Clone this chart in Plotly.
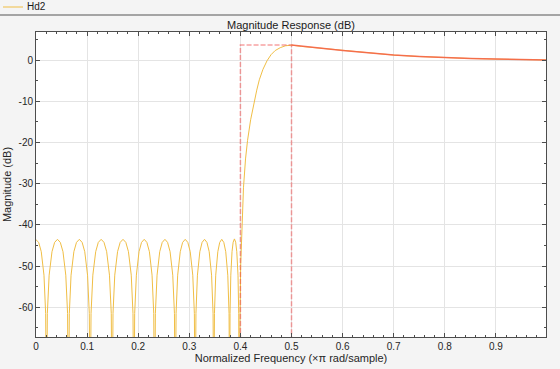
import plotly.graph_objects as go

# ---- Data ----
# Stopband (equiripple lobes), normalized frequency (x pi rad/sample)
stop_freq = [
    0.0, 0.0053, 0.0103, 0.0156, 0.0189, 0.0205,
    0.0222, 0.0257, 0.0313, 0.0364, 0.0420, 0.0476, 0.0528, 0.0583, 0.0618, 0.0635,
    0.0652, 0.0686, 0.0741, 0.0792, 0.0848, 0.0903, 0.0954, 0.1009, 0.1043, 0.1060,
    0.1077, 0.1112, 0.1168, 0.1219, 0.1275, 0.1331, 0.1383, 0.1438, 0.1473, 0.1490,
    0.1507, 0.1541, 0.1596, 0.1647, 0.1703, 0.1758, 0.1809, 0.1864, 0.1898, 0.1915,
    0.1931, 0.1964, 0.2016, 0.2065, 0.2118, 0.2170, 0.2219, 0.2271, 0.2304, 0.2320,
    0.2336, 0.2369, 0.2421, 0.2470, 0.2523, 0.2575, 0.2624, 0.2676, 0.2709, 0.2725,
    0.2741, 0.2772, 0.2823, 0.2869, 0.2920, 0.2971, 0.3018, 0.3068, 0.3099, 0.3115,
    0.3130, 0.3159, 0.3206, 0.3250, 0.3298, 0.3345, 0.3389, 0.3436, 0.3465, 0.3480,
    0.3492, 0.3517, 0.3558, 0.3595, 0.3635, 0.3675, 0.3713, 0.3753, 0.3778, 0.3790,
    0.3797, 0.3812, 0.3836, 0.3858, 0.3883, 0.3907, 0.3929, 0.3953, 0.3967, 0.3975,
]
stop_mag = [
    -43.6, -44.25, -46.5, -52.2, -61.5, -90,
    -61.5, -52.2, -46.5, -44.25, -43.5, -44.25, -46.5, -52.2, -61.5, -90,
    -61.5, -52.2, -46.5, -44.25, -43.5, -44.25, -46.5, -52.2, -61.5, -90,
    -61.5, -52.2, -46.5, -44.25, -43.5, -44.25, -46.5, -52.2, -61.5, -90,
    -61.5, -52.2, -46.5, -44.25, -43.5, -44.25, -46.5, -52.2, -61.5, -90,
    -61.5, -52.2, -46.5, -44.25, -43.5, -44.25, -46.5, -52.2, -61.5, -90,
    -61.5, -52.2, -46.5, -44.25, -43.5, -44.25, -46.5, -52.2, -61.5, -90,
    -61.5, -52.2, -46.5, -44.25, -43.5, -44.25, -46.5, -52.2, -61.5, -90,
    -61.5, -52.2, -46.5, -44.25, -43.5, -44.25, -46.5, -52.2, -61.5, -90,
    -61.5, -52.2, -46.5, -44.25, -43.5, -44.25, -46.5, -52.2, -61.5, -90,
    -61.5, -52.2, -46.5, -44.2, -43.4, -44.2, -46.5, -52.2, -61.5, -90,
]
# Transition band
trans_freq = [0.3985, 0.4005, 0.4030, 0.4060, 0.4100, 0.4140, 0.4200, 0.4260,
              0.4320, 0.4370, 0.4440, 0.4520, 0.4600, 0.4680, 0.4780, 0.4880, 0.5000]
trans_mag = [-70, -50, -40, -31, -24, -19.5, -14.5, -10.5,
             -7.3, -4.8, -2.3, -0.2, 1.3, 2.3, 3.0, 3.45, 3.62]
# Passband
pass_freq = [0.52, 0.55, 0.60, 0.65, 0.70, 0.75, 0.80, 0.85, 0.90, 0.95, 0.998]
pass_mag = [3.3, 2.95, 2.3, 1.7, 1.2, 0.85, 0.57, 0.38, 0.22, 0.1, 0.02]

# Specification mask (dashed box)
mask_freq = [0.4, 0.4, 0.5, 0.5]
mask_mag = [-90, 3.62, 3.62, -90]

x_ticks = [0, 0.1, 0.2, 0.3, 0.4, 0.5, 0.6, 0.7, 0.8, 0.9]
x_ticktext = ["0", "0.1", "0.2", "0.3", "0.4", "0.5", "0.6", "0.7", "0.8", "0.9"]
y_ticks = [-60, -50, -40, -30, -20, -10, 0]
y_ticktext = ["-60", "-50", "-40", "-30", "-20", "-10", "0"]

freq = stop_freq + trans_freq + pass_freq
mag = stop_mag + trans_mag + pass_mag

fig = go.Figure()
fig.add_trace(go.Scatter(x=freq, y=mag, mode="lines", name="Hd2",
                         line=dict(color="#F0BE45", width=1)))
fig.add_trace(go.Scatter(x=mask_freq, y=mask_mag, mode="lines", name="mask",
                         line=dict(color="rgba(240,70,70,0.5)", width=1.5, dash="5px,2px")))
fig.add_trace(go.Scatter(x=[trans_freq[-1]] + pass_freq, y=[trans_mag[-1]] + pass_mag,
                         mode="lines", name="mask pass",
                         line=dict(color="rgba(244,95,70,0.85)", width=1.5)))

axis_col = "#4d4d4d"
fig.update_layout(
    width=560, height=369,
    margin=dict(l=36, r=14, t=32, b=32),
    paper_bgcolor="#f4f4f4", plot_bgcolor="white",
    font=dict(family="Liberation Sans, Arial, sans-serif", size=10, color="#262626"),
    showlegend=False,
    title=dict(text="Magnitude Response (dB)", x=0.5, xref="paper", xanchor="center",
               y=1 - 25 / 369, yref="container", yanchor="middle",
               font=dict(size=11, color="#1a1a1a")),
)
fig.update_xaxes(
    automargin=False,
    range=[0, 0.998], tickmode="array", tickvals=x_ticks, ticktext=x_ticktext,
    ticks="inside", ticklen=4, tickcolor=axis_col, tickwidth=1,
    minor=dict(tickmode="linear", tick0=0, dtick=0.02, ticks="inside", ticklen=2,
               tickcolor=axis_col, showgrid=False),
    showline=True, linecolor=axis_col, linewidth=1, mirror="ticks",
    showgrid=True, gridcolor="#e4e4e4", gridwidth=1, zeroline=False,
    title=dict(text="Normalized Frequency (×π rad/sample)", standoff=2, font=dict(size=11)),
)
fig.update_yaxes(
    automargin=False,
    range=[-67.2, 6.8], tickmode="array", tickvals=y_ticks, ticktext=y_ticktext,
    ticks="inside", ticklen=4, tickcolor=axis_col, tickwidth=1,
    minor=dict(tickmode="linear", tick0=0, dtick=5, ticks="inside", ticklen=2,
               tickcolor=axis_col, showgrid=False),
    showline=True, linecolor=axis_col, linewidth=1, mirror="ticks",
    showgrid=True, gridcolor="#e4e4e4", gridwidth=1, zeroline=False,
    title=dict(text="Magnitude (dB)", standoff=4, font=dict(size=11)),
)

# Top legend strip with separator
fig.add_shape(type="line", xref="paper", yref="paper",
              x0=-36 / 510, x1=524 / 510, y0=(337 - 15) / 305, y1=(337 - 15) / 305,
              line=dict(color="#555555", width=1))
fig.add_shape(type="line", xref="paper", yref="paper",
              x0=(3 - 36) / 510, x1=(23 - 36) / 510, y0=(337 - 7) / 305, y1=(337 - 7) / 305,
              line=dict(color="#F0BE45", width=1))
fig.add_annotation(text="Hd2", xref="paper", yref="paper", x=(25 - 36) / 510, y=(337 - 7) / 305,
                   xanchor="left", yanchor="middle", showarrow=False,
                   font=dict(size=10, color="#1a1a1a"))

fig.write_html(
    "out.html",
    config={"displayModeBar": False},
    post_script="document.body.style.margin='0';document.body.style.background='#f4f4f4';",
)
